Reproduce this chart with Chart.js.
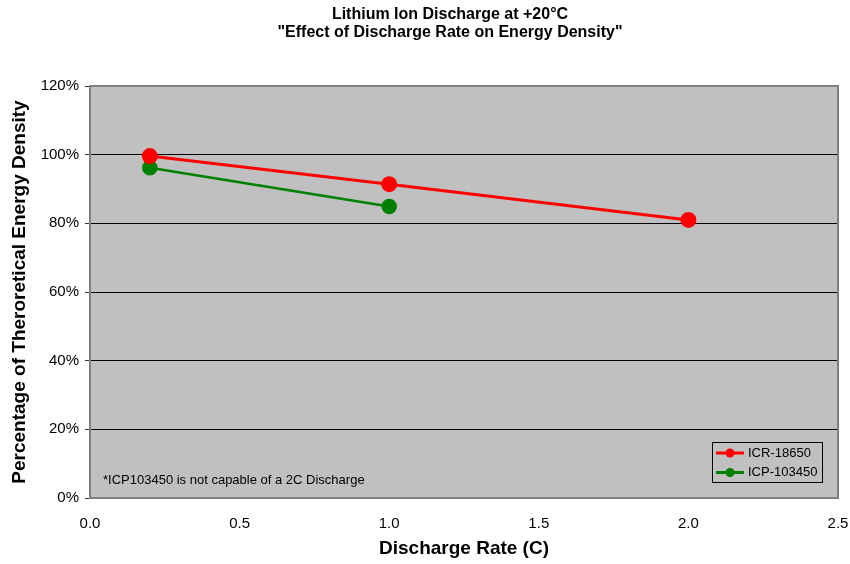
<!DOCTYPE html>
<html>
<head>
<meta charset="utf-8">
<script src="https://cdn.jsdelivr.net/npm/chart.js@4"></script>
<style>
html,body{margin:0;padding:0;background:#fff}
#wrap{width:850px;height:564px}
</style>
</head>
<body>
<div id="wrap"><canvas id="chart" width="850" height="564"></canvas></div>
<script>
const rates18650 = [0.2, 1.0, 2.0]
const energy18650 = [99.6, 91.4, 81.0]
const rates103450 = [0.2, 1.0]
const energy103450 = [96.2, 84.9]
const titleLines = ["Lithium Ion Discharge at +20°C", "\"Effect of Discharge Rate on Energy Density\""]
const note = "*ICP103450 is not capable of a 2C Discharge"

const FONT = "'Liberation Sans', Arial, sans-serif"

const toPoints = (xs, ys) => xs.map((x,i)=>({x:x, y:ys[i]}))

// gray plot area, border, title, note and boxed legend
const decor = {
id:"decor",
beforeDraw(chart){
const {ctx, chartArea:a} = chart
ctx.save()
ctx.fillStyle = "#c0c0c0"
ctx.fillRect(a.left, a.top, a.right-a.left, a.bottom-a.top)
ctx.restore()
},
beforeDatasetsDraw(chart){
const {ctx, chartArea:a} = chart
ctx.save()
ctx.strokeStyle = "#808080"
ctx.lineWidth = 2
ctx.strokeRect(a.left, a.top, a.right-a.left, a.bottom-a.top)
ctx.restore()
},
afterDraw(chart){
const {ctx, chartArea:a} = chart
ctx.save()
ctx.fillStyle = "#000"
ctx.textAlign = "center"
ctx.textBaseline = "middle"
ctx.font = "bold 16px " + FONT
ctx.fillText(titleLines[0], 450, 15)
ctx.fillText(titleLines[1], 450, 33)

ctx.textAlign = "left"
ctx.font = "13px " + FONT
ctx.fillText(note, a.left+13, 480)

// legend
const lx = 712, ly = 442, lw = 110, lh = 40
ctx.strokeStyle = "#000"
ctx.lineWidth = 1
ctx.strokeRect(lx+0.5, ly+0.5, lw, lh)
ctx.font = "13px " + FONT
chart.data.datasets.forEach((ds,i)=>{
const y = ly + 11 + i*19.5
ctx.strokeStyle = ds.borderColor
ctx.lineWidth = 3
ctx.beginPath()
ctx.moveTo(lx+4, y)
ctx.lineTo(lx+32, y)
ctx.stroke()
ctx.fillStyle = ds.backgroundColor
ctx.beginPath()
ctx.arc(lx+18, y, 4.5, 0, Math.PI*2)
ctx.fill()
ctx.fillStyle = "#000"
ctx.fillText(ds.label, lx+36, y)
})
ctx.restore()
}
}

new Chart(
document.getElementById("chart"),
{
type:"line",
data:{
datasets:[{
label:"ICR-18650",
data:toPoints(rates18650, energy18650),
borderColor:"#ff0000",
backgroundColor:"#ff0000",
borderWidth:3,
pointRadius:6.5,
pointHoverRadius:6.5
},{
label:"ICP-103450",
data:toPoints(rates103450, energy103450),
borderColor:"#008000",
backgroundColor:"#008000",
borderWidth:2.5,
pointRadius:6.5,
pointHoverRadius:6.5
}]
},
options:{
responsive:false,
animation:false,
layout:{padding:{left:0, top:86, right:0, bottom:0}},
plugins:{legend:{display:false}, title:{display:false}, tooltip:{enabled:false}},
scales:{
x:{
type:"linear",
min:0, max:2.5,
border:{display:false},
grid:{display:false, drawTicks:true, tickLength:5, tickColor:"#333"},
ticks:{stepSize:0.5, color:"#000", font:{family:FONT, size:15}, padding:12,
callback:v=>v.toFixed(1)},
title:{display:true, text:"Discharge Rate (C)", color:"#000",
font:{family:FONT, size:19, weight:"bold"}, padding:{top:6}},
afterFit:s=>{s.height = 66; s.paddingRight = 12}
},
y:{
min:0, max:120,
border:{display:false},
grid:{color:"#000", lineWidth:1, tickLength:5, tickColor:"#333"},
ticks:{stepSize:20, color:"#000", font:{family:FONT, size:15}, padding:6,
callback:v=>v+"%"},
title:{display:true, text:"Percentage of Theroretical Energy Density", color:"#000",
font:{family:FONT, size:19, weight:"bold"}, padding:{top:8, bottom:0}},
afterFit:s=>{s.width = 90}
}
}
},
plugins:[decor]
})
</script>
</body>
</html>
